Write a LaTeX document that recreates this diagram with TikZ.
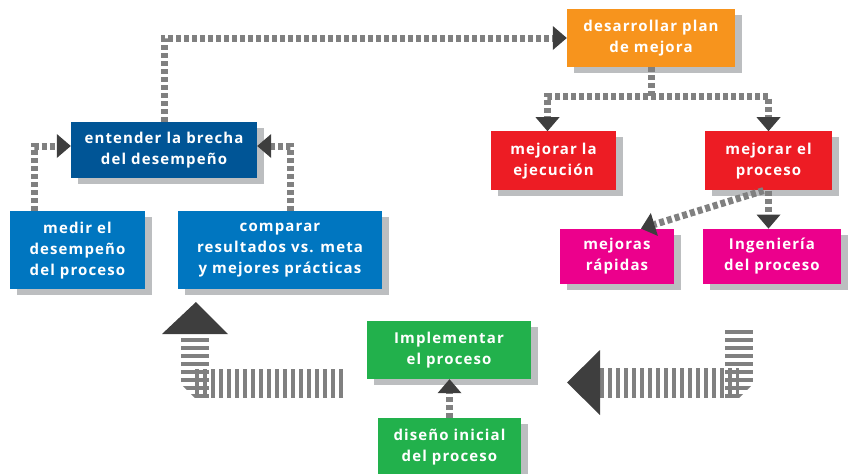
\documentclass[tikz,border=0pt]{standalone}
\usepackage{fontspec}
\setmainfont{Open Sans}
\usetikzlibrary{positioning, shadows, arrows.meta}

\definecolor{planorange}{RGB}{247,148,29}
\definecolor{darkblue}{RGB}{0,85,150}
\definecolor{midblue}{RGB}{0,118,192}
\definecolor{stepred}{RGB}{237,28,36}
\definecolor{stepmagenta}{RGB}{236,0,140}
\definecolor{stepgreen}{RGB}{34,177,76}
\definecolor{linegray}{RGB}{128,128,128}
\definecolor{tipgray}{RGB}{62,62,62}
\definecolor{shadegray}{RGB}{188,190,192}

\begin{document}
\begin{tikzpicture}[
        x=1pt, y=-1pt,
        every node/.style={inner sep=0pt, align=center, text=white,
            font=\fontsize{15}{21}\selectfont\bfseries\addfontfeatures{LetterSpace=7.5},
            drop shadow={shadow xshift=7pt, shadow yshift=-6pt, opacity=1, fill=shadegray}},
        plan/.style={fill=planorange, minimum width=168pt, minimum height=58pt},
        gap/.style={fill=darkblue, minimum width=186pt, minimum height=56pt},
        meas/.style={fill=midblue, minimum height=78pt},
        fix/.style={fill=stepred, minimum height=59pt},
        sub/.style={fill=stepmagenta, minimum height=55pt},
        impl/.style={fill=stepgreen, minimum height=58pt},
        link/.style={draw=linegray, line width=7pt, dash pattern=on 5pt off 3pt,
            -{Triangle[width=24pt, length=14pt, line width=0pt, color=tipgray]}},
        band/.style={draw=linegray, dash pattern=on 4pt off 4pt}
    ]
    \useasboundingbox (0,0) rectangle (849,474);

    % Plan
    \node[plan] (plan) at (651,38) {desarrollar plan\\de mejora};

    % Gap and its inputs
    \node[gap] (brecha) at (164,150) {entender la brecha\\del desempeño};
    \node[meas, minimum width=135pt, below=33pt of brecha, xshift=-86.5pt] (medir) {medir el\\desempeño\\del proceso};
    \node[meas, minimum width=204pt, below=33pt of brecha, xshift=116pt] (comparar) {comparar\\resultados vs. meta\\y mejores prácticas};

    % Improvements
    \node[fix, minimum width=125pt, below=64pt of plan, xshift=-97.5pt] (ejecucion) {mejorar la\\ejecución};
    \node[fix, minimum width=127pt, below=64pt of plan, xshift=117.5pt] (mproceso) {mejorar el\\proceso};
    \node[sub, minimum width=114pt, below=38pt of mproceso, xshift=-151.5pt] (rapidas) {mejoras\\rápidas};
    \node[sub, minimum width=138pt, below=38pt of mproceso, xshift=3.5pt] (ingenieria) {Ingeniería\\del proceso};

    % Implementation
    \node[impl, minimum width=164pt] (implementar) at (449,350) {Implementar\\el proceso};
    \node[impl, minimum width=143pt, below=39pt of implementar, xshift=0.5pt] (diseno) {diseño inicial\\del proceso};

    % Links
    \draw[link] (brecha.north) |- (plan.west);
    \draw[link] ([xshift=25pt]medir.north west) |- ([yshift=4pt]brecha.west);
    \draw[link] ([xshift=-92pt]comparar.north east) |- ([yshift=4pt]brecha.east);
    \coordinate (split) at ([yshift=-29pt]plan.south);
    \draw[link] (plan.south) -- (split) -| ([xshift=-6pt]ejecucion.north);
    \draw[link] (split) -| (mproceso.north);
    \draw[link] (mproceso.south) -- (mproceso.south |- ingenieria.north);
    \draw[link] ([xshift=-5pt]mproceso.south) -- ([xshift=24pt]rapidas.north);
    \draw[link] (diseno.north) -- (diseno.north |- implementar.south);

    % Big return arrows
    \draw[band, line width=29pt] (343,383.5) -- (195,383.5);
    \begin{scope}
        \clip (181,330) -- (209,330) -- (209,398) -- (195,398) -- (181,384) -- cycle;
        \draw[band, line width=28pt] (195,398) -- (195,337);
    \end{scope}
    \fill[tipgray] (162,334) -- (228,334) -- (196,302) -- cycle;

    \draw[band, line width=30pt] (600,383) -- (739,383);
    \begin{scope}
        \clip (725,320) -- (753,320) -- (753,384) -- (739,398) -- (725,398) -- cycle;
        \draw[band, line width=28pt] (739,398) -- (739,328);
    \end{scope}
    \fill[tipgray] (600,350) -- (600,415) -- (567,382.5) -- cycle;

\end{tikzpicture}
\end{document}
